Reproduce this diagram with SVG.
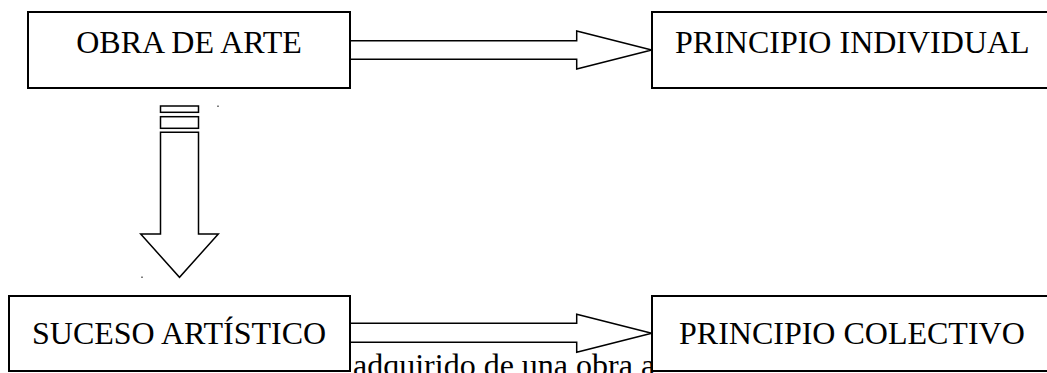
<svg xmlns="http://www.w3.org/2000/svg" width="1047" height="373" viewBox="0 0 1047 373">
<style>
.box{fill:#fff;stroke:#000;stroke-width:2}
.arr{fill:#fff;stroke:#000;stroke-width:1.5;stroke-linejoin:miter}
.t{font-family:"Liberation Serif","Times New Roman",serif;font-size:32px;fill:#000}
.mark{fill:#000}
</style>
<rect width="1047" height="373" fill="#fff"/>
<g id="connectors">
<polygon class="arr" points="349,40.7 576.7,40.7 576.7,31 651.7,50 576.7,69 576.7,59.3 349,59.3"/>
<polygon class="arr" points="350,323.3 576.7,323.3 576.7,314.3 651.7,333.3 576.7,352.3 576.7,342.3 350,342.3"/>
<g id="down-arrow">
<rect class="arr" x="160.5" y="106" width="38" height="6.3"/>
<rect class="arr" x="160.5" y="116.7" width="38" height="11.6"/>
<polygon class="arr" points="160.5,132.3 198.5,132.3 198.5,234 218.3,234 179.5,277.3 140.7,234 160.5,234"/>
</g>
</g>
<g id="marks">
<rect class="mark" x="217.5" y="105.5" width="1" height="1.5"/>
<rect class="mark" x="141.5" y="276.5" width="1" height="1.5"/>
<rect class="mark" x="651" y="67.5" width="2" height="1"/>
<rect class="mark" x="651" y="351.5" width="2" height="1"/>
</g>
<text class="t" x="353" y="376">adquirido de una obra a</text>
<g id="obra-de-arte">
<rect class="box" x="28" y="12" width="322" height="76"/>
<text class="t" x="189" y="53" text-anchor="middle">OBRA DE ARTE</text>
</g>
<g id="principio-individual">
<rect class="box" x="652" y="12" width="420" height="76"/>
<text class="t" x="675" y="53">PRINCIPIO INDIVIDUAL</text>
</g>
<g id="suceso-artistico">
<rect class="box" x="9" y="296" width="341" height="75"/>
<text class="t" x="32" y="344">SUCESO ARTÍSTICO</text>
</g>
<g id="principio-colectivo">
<rect class="box" x="652" y="296" width="420" height="75"/>
<text class="t" x="679" y="344">PRINCIPIO COLECTIVO</text>
</g>
</svg>
